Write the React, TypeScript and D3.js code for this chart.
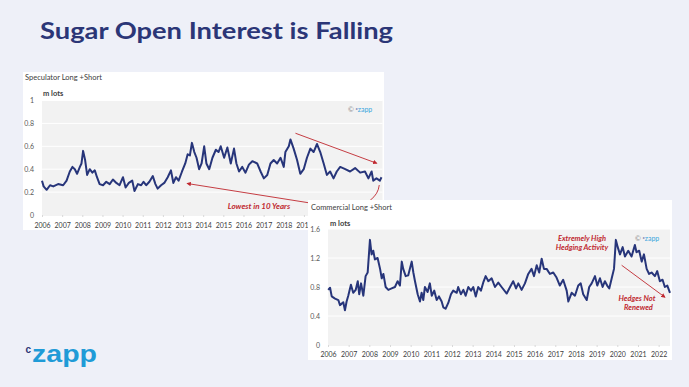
import React, { useEffect, useRef } from 'react';
import * as d3 from 'd3';

// ---- values (decimal years, million lots) ----
const specYears = [
  2006.0, 2006.08, 2006.23, 2006.4, 2006.56, 2006.8, 2007.05, 2007.22, 2007.38, 2007.51,
  2007.63, 2007.74, 2007.88, 2007.96, 2008.04, 2008.14, 2008.24, 2008.37, 2008.5, 2008.62,
  2008.73, 2008.86, 2009.03, 2009.19, 2009.36, 2009.52, 2009.69, 2009.85, 2010.02, 2010.15,
  2010.31, 2010.48, 2010.59, 2010.76, 2010.92, 2011.04, 2011.17, 2011.33, 2011.5, 2011.63,
  2011.74, 2011.91, 2012.07, 2012.24, 2012.4, 2012.52, 2012.65, 2012.78, 2012.95, 2013.11,
  2013.23, 2013.34, 2013.44, 2013.56, 2013.67, 2013.8, 2013.92, 2014.05, 2014.16, 2014.3,
  2014.46, 2014.63, 2014.76, 2014.87, 2015.04, 2015.2, 2015.37, 2015.53, 2015.65, 2015.78,
  2015.94, 2016.1, 2016.27, 2016.44, 2016.68, 2016.85, 2017.01, 2017.18, 2017.34, 2017.5,
  2017.67, 2017.84, 2018.0, 2018.08, 2018.25, 2018.33, 2018.49, 2018.66, 2018.82, 2018.99,
  2019.15, 2019.32, 2019.48, 2019.65, 2019.81, 2019.98, 2020.14, 2020.3, 2020.47, 2020.63,
  2020.8, 2021.05, 2021.29, 2021.54, 2021.79, 2022.03, 2022.2, 2022.36, 2022.44, 2022.6,
  2022.77, 2022.85,
];
const specValues = [
  0.30, 0.25, 0.22, 0.26, 0.25, 0.27, 0.26, 0.30, 0.38, 0.42,
  0.40, 0.36, 0.42, 0.45, 0.56, 0.48, 0.35, 0.40, 0.37, 0.39,
  0.33, 0.27, 0.26, 0.29, 0.27, 0.31, 0.28, 0.26, 0.33, 0.24,
  0.28, 0.30, 0.21, 0.27, 0.26, 0.29, 0.26, 0.29, 0.34, 0.27,
  0.23, 0.26, 0.28, 0.33, 0.39, 0.28, 0.33, 0.30, 0.38, 0.45,
  0.53, 0.52, 0.63, 0.55, 0.50, 0.40, 0.45, 0.60, 0.45, 0.40,
  0.50, 0.57, 0.55, 0.60, 0.50, 0.59, 0.45, 0.58, 0.45, 0.38,
  0.42, 0.37, 0.44, 0.47, 0.45, 0.38, 0.32, 0.35, 0.45, 0.48,
  0.45, 0.50, 0.42, 0.55, 0.60, 0.66, 0.58, 0.48, 0.36, 0.40,
  0.50, 0.58, 0.55, 0.62, 0.55, 0.45, 0.35, 0.38, 0.32, 0.38,
  0.42, 0.40, 0.38, 0.41, 0.37, 0.38, 0.32, 0.38, 0.30, 0.32,
  0.30, 0.33,
];

const commYears = [
  2006.01, 2006.10, 2006.18, 2006.34, 2006.50, 2006.58, 2006.74, 2006.82, 2006.90, 2006.98,
  2007.11, 2007.22, 2007.34, 2007.44, 2007.51, 2007.60, 2007.71, 2007.82, 2007.92, 2008.03,
  2008.11, 2008.19, 2008.27, 2008.40, 2008.52, 2008.60, 2008.68, 2008.79, 2008.92, 2009.08,
  2009.24, 2009.37, 2009.48, 2009.57, 2009.64, 2009.76, 2009.88, 2010.05, 2010.13, 2010.21,
  2010.34, 2010.45, 2010.53, 2010.61, 2010.69, 2010.82, 2010.93, 2011.02, 2011.14, 2011.26,
  2011.37, 2011.50, 2011.58, 2011.69, 2011.82, 2011.95, 2012.06, 2012.23, 2012.30, 2012.43,
  2012.55, 2012.66, 2012.79, 2012.92, 2013.03, 2013.15, 2013.27, 2013.40, 2013.51, 2013.63,
  2013.76, 2013.92, 2014.08, 2014.24, 2014.40, 2014.65, 2014.81, 2014.96, 2015.10, 2015.21,
  2015.37, 2015.53, 2015.69, 2015.85, 2015.97, 2016.10, 2016.22, 2016.34, 2016.45, 2016.58,
  2016.74, 2016.90, 2017.06, 2017.22, 2017.38, 2017.55, 2017.63, 2017.79, 2017.95, 2018.11,
  2018.23, 2018.35, 2018.52, 2018.64, 2018.76, 2018.92, 2019.03, 2019.16, 2019.29, 2019.40,
  2019.51, 2019.61, 2019.73, 2019.84, 2019.93, 2020.02, 2020.13, 2020.26, 2020.37, 2020.53,
  2020.69, 2020.85, 2020.93, 2021.06, 2021.18, 2021.29, 2021.42, 2021.54, 2021.66, 2021.82,
  2021.93, 2022.06, 2022.19, 2022.30, 2022.42, 2022.55,
];
const commValues = [
  0.76, 0.79, 0.67, 0.64, 0.62, 0.55, 0.59, 0.48, 0.60, 0.68,
  0.83, 0.72, 0.76, 0.88, 0.70, 0.85, 0.68, 0.95, 1.00, 1.45,
  1.25, 1.30, 1.18, 1.20, 1.05, 0.92, 0.98, 0.80, 0.76, 0.78,
  0.80, 0.88, 0.82, 1.15, 1.05, 0.95, 0.96, 1.15, 1.00, 0.88,
  0.70, 0.60, 0.72, 0.62, 0.80, 0.73, 0.85, 0.68, 0.75, 0.62,
  0.67, 0.60, 0.52, 0.50, 0.58, 0.70, 0.75, 0.72, 0.80, 0.70,
  0.76, 0.68, 0.80, 0.75, 0.80, 0.67, 0.80, 0.75, 0.86, 0.95,
  0.88, 0.92, 0.80, 0.86, 0.80, 0.71, 0.80, 0.88, 0.78, 0.85,
  0.76, 0.85, 0.98, 1.05, 0.95, 1.10, 1.00, 1.19, 1.05, 1.05,
  0.98, 1.00, 0.93, 0.82, 0.90, 0.75, 0.60, 0.72, 0.68, 0.82,
  0.85, 0.70, 0.62, 0.80, 0.85, 0.95, 0.82, 0.92, 0.80, 0.88,
  0.82, 0.78, 0.92, 1.05, 1.45, 1.35, 1.25, 1.35, 1.22, 1.30,
  1.22, 1.38, 1.28, 1.30, 1.15, 1.25, 1.05, 0.98, 1.00, 0.95,
  1.02, 0.88, 0.90, 0.80, 0.82, 0.72,
];

const yearTicks = [2006, 2007, 2008, 2009, 2010, 2011, 2012, 2013, 2014, 2015, 2016, 2017, 2018, 2019, 2020, 2021, 2022];
const yearLabels = ['2006', '2007', '2008', '2009', '2010', '2011', '2012', '2013', '2014', '2015', '2016', '2017', '2018', '2019', '2020', '2021', '2022'];
const specTicks = [0, 0.2, 0.4, 0.6, 0.8, 1];
const commTicks = [0, 0.4, 0.8, 1.2, 1.6];

const NAVY = '#27357a';
const RED = '#c0282f';
const FONT = 'Lato, "Open Sans", sans-serif';

export default function App() {
  const ref = useRef<SVGSVGElement>(null);

  useEffect(() => {
    const svg = d3.select(ref.current);
    svg.selectAll('*').remove();

    // ------------ background + title ------------
    svg.append('rect').attr('width', 689).attr('height', 387).attr('fill', '#eef0f8');

    svg.append('text')
      .attr('x', 40).attr('y', 39)
      .attr('font-family', FONT).attr('font-weight', 700).attr('font-size', 22)
      .attr('fill', '#2b3677')
      .attr('textLength', 353).attr('lengthAdjust', 'spacingAndGlyphs')
      .text('Sugar Open Interest is Falling');

    const defs = svg.append('defs');
    defs.append('marker')
      .attr('id', 'redHead')
      .attr('viewBox', '0 0 10 10')
      .attr('refX', 8).attr('refY', 5)
      .attr('markerWidth', 5).attr('markerHeight', 5)
      .attr('orient', 'auto-start-reverse')
      .append('path').attr('d', 'M0,0 L10,5 L0,10 z').attr('fill', RED);

    // ------------ one panel ------------
    const drawPanel = (cfg: any) => {
      const g = svg.append('g');
      g.append('rect')
        .attr('x', cfg.card[0]).attr('y', cfg.card[1])
        .attr('width', cfg.card[2]).attr('height', cfg.card[3])
        .attr('fill', '#fff');

      const x = d3.scaleLinear().domain(cfg.xDomain).range(cfg.xRange);
      const y = d3.scaleLinear().domain(cfg.yDomain).range(cfg.yRange);

      g.append('rect')
        .attr('x', cfg.xRange[0]).attr('y', cfg.yRange[1])
        .attr('width', cfg.xRange[1] - cfg.xRange[0])
        .attr('height', cfg.yRange[0] - cfg.yRange[1] + 1)
        .attr('fill', '#f2f2f2');

      g.append('g').selectAll('line')
        .data(cfg.ticks.slice(1))
        .join('line')
        .attr('x1', cfg.xRange[0]).attr('x2', cfg.xRange[1])
        .attr('y1', (d: number) => y(d)).attr('y2', (d: number) => y(d))
        .attr('stroke', '#ffffff').attr('stroke-width', 1);

      g.append('text')
        .attr('x', cfg.titlePos[0]).attr('y', cfg.titlePos[1])
        .attr('font-family', FONT).attr('font-size', 7.5).attr('fill', '#404040')
        .text(cfg.title);
      g.append('text')
        .attr('x', cfg.unitPos[0]).attr('y', cfg.unitPos[1])
        .attr('font-family', FONT).attr('font-size', 7.5).attr('font-weight', 700).attr('fill', '#404040')
        .text('m lots');

      const yAxis = d3.axisLeft(y).tickValues(cfg.ticks).tickSize(0).tickPadding(8)
        .tickFormat((d: any) => String(d));
      g.append('g')
        .attr('transform', `translate(${cfg.xRange[0]},0)`)
        .call(yAxis)
        .call((s: any) => s.select('.domain').remove())
        .selectAll('text')
        .attr('font-family', FONT).attr('font-size', 7).attr('fill', '#595959');

      // labels hidden under the other card are left out
      const shown = yearTicks.filter((t) => t <= cfg.lastLabel);
      const xAxis = d3.axisBottom(x).tickValues(shown).tickSize(2).tickPadding(cfg.xPad)
        .tickFormat((d: any, i: number) => yearLabels[i]);
      const xg = g.append('g')
        .attr('transform', `translate(0,${cfg.yRange[0]})`)
        .call(xAxis);
      xg.select('.domain').remove();
      xg.selectAll('line').attr('stroke', '#d9d9d9');
      xg.selectAll('text')
        .attr('font-family', FONT).attr('font-size', 7).attr('fill', '#404040');

      g.append('path')
        .datum(cfg.values)
        .attr('fill', 'none')
        .attr('stroke', NAVY)
        .attr('stroke-width', 2)
        .attr('stroke-linejoin', 'round')
        .attr('d', d3.line<number>()
          .x((d, i) => x(cfg.years[i]))
          .y((d) => y(d)));

      // copyright mark
      const mark = g.append('text')
        .attr('x', cfg.markPos[0]).attr('y', cfg.markPos[1])
        .attr('font-family', FONT).attr('font-size', 7);
      mark.append('tspan').attr('fill', '#8c8c8c').text('© ');
      mark.append('tspan').attr('fill', NAVY).attr('font-size', 4.5).attr('dy', -2).text('c');
      mark.append('tspan').attr('fill', '#3aa6dd').attr('dy', 2).text('zapp');

      return { g, x, y };
    };

    // ---------- top: speculators ----------
    const top = drawPanel({
      card: [23, 72, 361, 158],
      title: 'Speculator Long +Short',
      titlePos: [25, 80],
      unitPos: [43, 96],
      xDomain: [2006, 2022.9],
      xRange: [42, 382.5],
      yDomain: [0, 1],
      yRange: [215, 100.5],
      ticks: specTicks,
      years: specYears,
      values: specValues,
      xPad: 6,
      lastLabel: 2019,
      markPos: [348, 112],
    });
    const tp = (yr: number, v: number) => [top.x(yr), top.y(v)];

    const a1 = tp(2018.58, 0.714), a2 = tp(2022.61, 0.452);
    top.g.append('line')
      .attr('x1', a1[0]).attr('y1', a1[1]).attr('x2', a2[0]).attr('y2', a2[1])
      .attr('stroke', RED).attr('stroke-width', 0.9)
      .attr('marker-end', 'url(#redHead)');

    const c0 = tp(2022.74, 0.262), c1 = tp(2022.64, 0.105), c2 = tp(2021.2, 0.052), c3 = tp(2013.21, 0.275);
    top.g.append('path')
      .attr('d', `M${c0[0]},${c0[1]} Q${c1[0]},${c1[1]} ${c2[0]},${c2[1]} L${c3[0]},${c3[1]}`)
      .attr('fill', 'none')
      .attr('stroke', RED).attr('stroke-width', 0.9)
      .attr('marker-end', 'url(#redHead)');

    top.g.append('text')
      .attr('x', 259).attr('y', 209)
      .attr('text-anchor', 'middle')
      .attr('font-family', FONT).attr('font-size', 8).attr('font-weight', 700).attr('font-style', 'italic')
      .attr('fill', RED)
      .text('Lowest in 10 Years');

    // ---------- bottom: commercials ----------
    const bot = drawPanel({
      card: [308, 200, 364, 160],
      title: 'Commercial Long +Short',
      titlePos: [311, 209.5],
      unitPos: [330, 226],
      xDomain: [2006, 2022.55],
      xRange: [328, 670],
      yDomain: [0, 1.6],
      yRange: [345, 229],
      ticks: commTicks,
      years: commYears,
      values: commValues,
      xPad: 5,
      lastLabel: 2022,
      markPos: [635, 241],
    });
    const bp = (yr: number, v: number) => [bot.x(yr), bot.y(v)];
    const b1 = bp(2020.21, 1.10), b2 = bp(2022.3, 0.66);
    bot.g.append('line')
      .attr('x1', b1[0]).attr('y1', b1[1]).attr('x2', b2[0]).attr('y2', b2[1])
      .attr('stroke', RED).attr('stroke-width', 0.9)
      .attr('marker-end', 'url(#redHead)');

    const notes = [
      { t: 'Extremely High', x: 582, y: 241 },
      { t: 'Hedging Activity', x: 582, y: 250 },
      { t: 'Hedges Not', x: 637, y: 301 },
      { t: 'Renewed', x: 638.5, y: 310 },
    ];
    bot.g.append('g').selectAll('text')
      .data(notes)
      .join('text')
      .attr('x', (d) => d.x).attr('y', (d) => d.y)
      .attr('text-anchor', 'middle')
      .attr('font-family', FONT).attr('font-size', 7.5).attr('font-weight', 700).attr('font-style', 'italic')
      .attr('fill', RED)
      .text((d) => d.t);

    // ---------- logo ----------
    svg.append('text')
      .attr('x', 25.5).attr('y', 353)
      .attr('font-family', '"Liberation Sans", Arial, sans-serif').attr('font-weight', 700).attr('font-size', 10)
      .attr('fill', '#2c3575')
      .text('c');
    svg.append('text')
      .attr('x', 32).attr('y', 362)
      .attr('font-family', '"Liberation Sans", Arial, sans-serif').attr('font-weight', 700).attr('font-size', 24)
      .attr('fill', '#1f9bd7')
      .attr('textLength', 65).attr('lengthAdjust', 'spacingAndGlyphs')
      .text('zapp');
  }, []);

  return (
    <svg ref={ref} width={689} height={387} style={{ position: 'absolute', left: 0, top: 0 }} />
  );
}
